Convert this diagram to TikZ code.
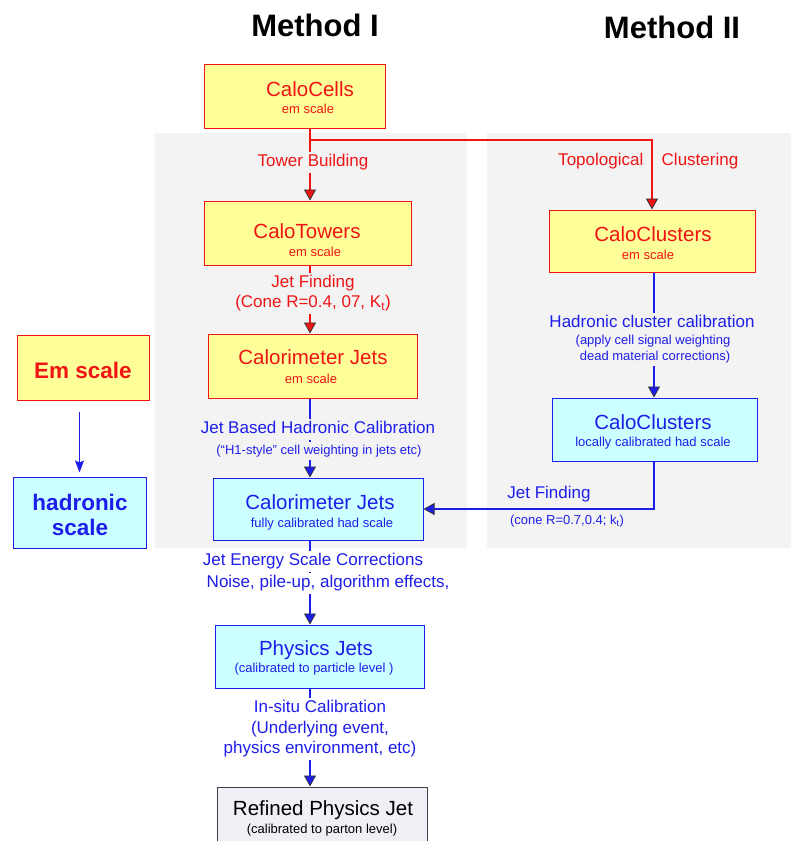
\documentclass[tikz,border=0pt]{standalone}
\usepackage{fontspec}
\setmainfont{Liberation Sans}
\usetikzlibrary{arrows.meta}
\definecolor{myred}{RGB}{240,20,20}
\definecolor{myblue}{RGB}{30,30,235}
\definecolor{yel}{RGB}{255,255,153}
\definecolor{cyn}{RGB}{204,255,255}
\definecolor{panel}{RGB}{243,243,243}
\definecolor{refill}{RGB}{238,240,246}
\tikzset{
  box/.style={draw, rectangle, inner sep=0pt, line width=1pt},
  embox/.style={box, draw=myred, fill=yel},
  hadbox/.style={box, draw=myblue, fill=cyn},
  refbox/.style={box, draw=black!75, fill=refill},
  big/.style={font=\fontsize{20.5}{24}\selectfont, inner sep=0pt},
  small/.style={font=\fontsize{13}{15}\selectfont, inner sep=0pt},
  lab/.style={font=\fontsize{17}{20}\selectfont, inner xsep=1.5pt, inner ysep=2.5pt, text height=12.5pt, text depth=3.5pt},
  slab/.style={font=\fontsize{13}{15}\selectfont, inner xsep=1.5pt, inner ysep=2.5pt, text height=10pt, text depth=3pt},
  redt/.style={text=myred},
  bluet/.style={text=myblue},
  redline/.style={draw=myred, line width=1.4pt},
  blueline/.style={draw=myblue, line width=1.4pt},
  redarr/.style={redline, -{Triangle[length=11pt,width=12pt,color=black!80,fill=myred,line width=0.8pt]}},
  bluearr/.style={blueline, -{Triangle[length=11pt,width=12pt,color=black!80,fill=myblue,line width=0.8pt]}},
  title/.style={font=\bfseries\fontsize{31}{36}\selectfont, inner sep=0pt},
  bold/.style={font=\bfseries\fontsize{22.5}{26}\selectfont, inner sep=0pt, align=center}
}
\begin{document}
\begin{tikzpicture}[x=1pt,y=-1pt]
\clip (0,0) rectangle (791,841);
\fill[white] (0,0) rectangle (791,841);
% panels
\fill[panel] (155,133) rectangle (467,548);
\fill[panel] (487,133) rectangle (791,548);
% titles
\node[title] (t1) at (315,25) {Method I};
\node[title] (t2) at (672,27) {Method II};
% coordinates for spines
\coordinate (spine) at (310,0);
\coordinate (cspine) at (654,0);
\coordinate (br) at (310,140);
% boxes
\node[embox, minimum width=181pt, minimum height=64pt] (cells) at (294.5,96) {};
\node[embox, minimum width=207pt, minimum height=64pt] (towers) at (307.5,233) {};
\node[embox, minimum width=209pt, minimum height=64pt] (cjem) at (312.5,366) {};
\node[hadbox, minimum width=210pt, minimum height=62pt] (cjhad) at (318,509) {};
\node[hadbox, minimum width=209pt, minimum height=63pt] (phys) at (319.5,656.5) {};
\node[refbox, minimum width=210pt, minimum height=73pt] (refined) at (322,823.5) {};
\node[embox, minimum width=206pt, minimum height=62pt] (clem) at (652,241) {};
\node[hadbox, minimum width=205pt, minimum height=63pt] (clhad) at (654.5,429.5) {};
\node[embox, minimum width=132pt, minimum height=65pt] (emsc) at (83,367.5) {};
\node[hadbox, minimum width=133pt, minimum height=71pt] (hadsc) at (79.5,512.5) {};
% connectors
\draw[redarr] (cells.south -| spine) -- (towers.north -| spine);
\draw[redarr] (br) -| (clem.north);
\draw[redarr] (towers.south -| spine) -- (cjem.north -| spine);
\draw[bluearr] (cjem.south -| spine) -- (cjhad.north -| spine);
\draw[bluearr] (cjhad.south -| spine) -- (phys.north -| spine);
\draw[bluearr] (phys.south -| spine) -- (refined.north -| spine);
\draw[bluearr] (clem.south -| cspine) -- (clhad.north -| cspine);
\draw[bluearr] (clhad.south -| cspine) |- (cjhad.east);
\draw[draw=myblue, line width=1pt, -{Stealth[length=12pt,width=9pt,inset=2pt]}, shorten <=11pt, shorten >=4pt] (emsc.south -| hadsc.north) -- (hadsc.north);
% box texts
\node[big, redt] (cellsA) at (310,89) {CaloCells};
\node[small, redt] (cellsB) at (308,109) {em scale};
\node[big, redt] (towersA) at (307,231) {CaloTowers};
\node[small, redt] (towersB) at (315,252) {em scale};
\node[big, redt] (cjemA) at (313,357) {Calorimeter Jets};
\node[small, redt] (cjemB) at (311,379) {em scale};
\node[big, bluet] (cjhadA) at (320,502) {Calorimeter Jets};
\node[small, bluet] (cjhadB) at (322,524) {fully calibrated had scale};
\node[big, bluet] (physA) at (316,650) {Physics Jets};
\node[small, bluet] (physB) at (314,669) {(calibrated to particle level )};
\node[big] (refA) at (323,810) {Refined Physics Jet};
\node[small] (refB) at (322,830) {(calibrated to parton level)};
\node[big, redt] (clemA) at (653,234) {CaloClusters};
\node[small, redt] (clemB) at (648,255) {em scale};
\node[big, bluet] (clhadA) at (653,422) {CaloClusters};
\node[small, bluet] (clhadB) at (653,443) {locally calibrated had scale};
\node[bold, text=myred] (emscA) at (83,370) {Em scale};
\node[bold, text=myblue] (hadscA) at (80,502) {hadronic};
\node[bold, text=myblue] (hadscB) at (80,527) {scale};
% labels
\node[lab, redt, fill=panel] (l1) at (313,162) {Tower Building};
\node[lab, redt, anchor=east] (l2a) at (645,161) {Topological};
\node[lab, redt, anchor=west] (l2b) at (660,161) {Clustering};
\node[lab, redt, fill=panel] (l3a) at (313,283) {Jet Finding};
\node[lab, redt, fill=panel] (l3b) at (313,303) {(Cone R=0.4, 07, K\textsubscript{t})};
\node[lab, bluet, fill=panel] (l4a) at (318,429) {Jet Based Hadronic Calibration};
\node[slab, bluet, fill=panel] (l4b) at (319,451) {(“H1-style” cell weighting in jets etc)};
\node[lab, bluet, fill=white] (l5a) at (313,561) {Jet Energy Scale Corrections};
\node[lab, bluet, fill=white] (l5b) at (328,583) {Noise, pile-up, algorithm effects,};
\node[lab, bluet, fill=white] (l6a) at (320,708) {In-situ Calibration};
\node[lab, bluet, fill=white] (l6b) at (320,729) {(Underlying event,};
\node[lab, bluet, fill=white] (l6c) at (320,749) {physics environment, etc)};
\node[lab, bluet, fill=panel] (l7a) at (652,323) {Hadronic cluster calibration};
\node[slab, bluet, fill=panel] (l7b) at (653,341) {(apply cell signal weighting};
\node[slab, bluet, fill=panel] (l7c) at (655,357) {dead material corrections)};
\node[lab, bluet] (l8a) at (549,494) {Jet Finding};
\node[slab, bluet] (l8b) at (567,521) {(cone R=0.7,0.4; k\textsubscript{t})};
\end{tikzpicture}
\end{document}
